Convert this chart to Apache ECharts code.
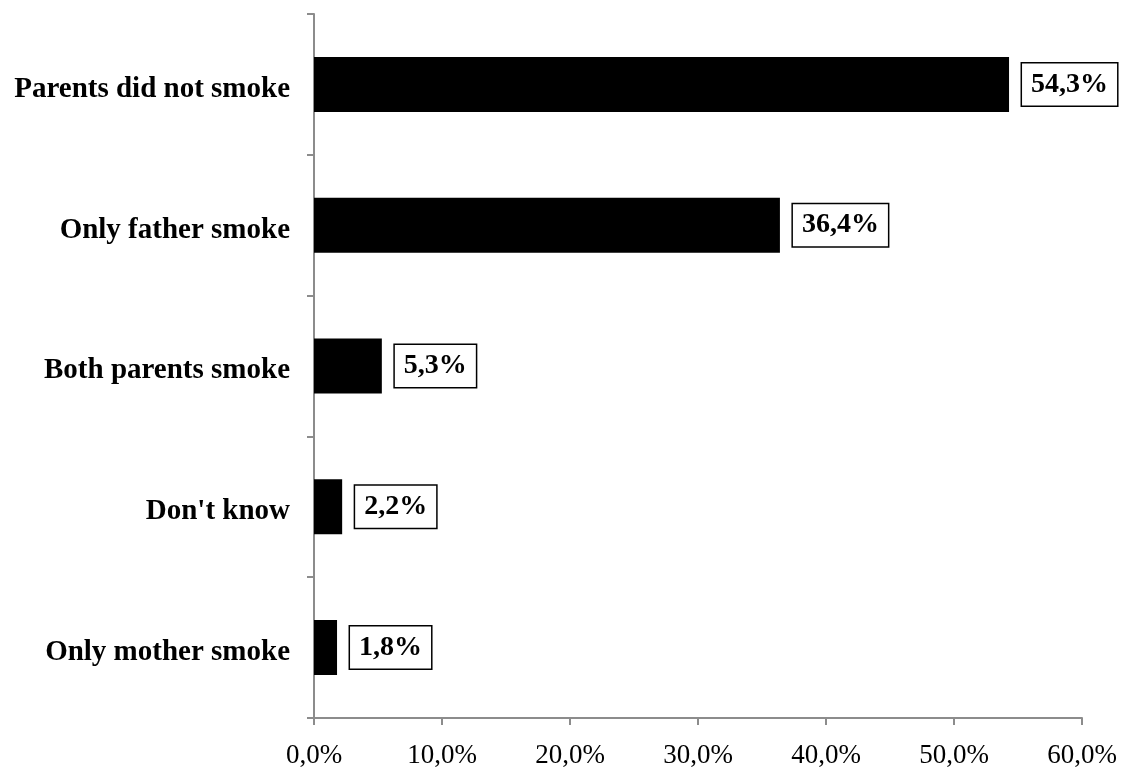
<!DOCTYPE html>
<html>
<head>
<meta charset="utf-8">
<script src="https://cdn.jsdelivr.net/npm/echarts@6/dist/echarts.min.js"></script>
<style>
  html, body { margin: 0; padding: 0; background: #fff; }
  #chartWrap { width: 1121px; height: 769px; }
</style>
</head>
<body>
<div id="chartWrap"></div>
<script>
// 数据
var categories = ['Parents did not smoke', 'Only father smoke', 'Both parents smoke', "Don't know", 'Only mother smoke'];
var values = [54.3, 36.4, 5.3, 2.2, 1.8];
var xTicks = [0, 10, 20, 30, 40, 50, 60];

var serif = '"Liberation Serif", "Times New Roman", serif';
var axisColor = '#8c8c8c';

function pct(v) { // 逗号作小数点
    return v.toFixed(1).replace('.', ',') + '%';
}

var myChart = echarts.init(document.getElementById('chartWrap'));
myChart.setOption({
    animation: false,
    backgroundColor: '#fff',
    grid: {
        left: 314,
        right: 39,
        top: 14,
        bottom: 50
    },
    xAxis: {
        type: 'value',
        min: xTicks[0],
        max: xTicks[xTicks.length - 1],
        interval: 10,
        axisLine: { show: true, lineStyle: { color: axisColor, width: 2 } },
        axisTick: { show: true, length: 7, lineStyle: { color: axisColor, width: 2 } },
        splitLine: { show: false },
        axisLabel: {
            margin: 24,
            fontFamily: serif,
            fontSize: 27,
            color: '#000',
            formatter: function (v) { return pct(v); }
        }
    },
    yAxis: {
        type: 'category',
        inverse: true,
        data: categories,
        axisLine: { show: true, lineStyle: { color: axisColor, width: 2 } },
        axisTick: { show: true, length: 7, alignWithLabel: false, lineStyle: { color: axisColor, width: 2 } },
        axisLabel: {
            margin: 24,
            fontFamily: serif,
            fontWeight: 'bold',
            fontSize: 29,
            color: '#000',
            formatter: function (v) { return '{c|' + v + '}'; },
            rich: {
                c: {
                    fontFamily: serif,
                    fontWeight: 'bold',
                    fontSize: 29,
                    color: '#000',
                    padding: [10, 0, 0, 0] // 文字略低于刻度中心
                }
            }
        }
    },
    series: [{
        type: 'bar',
        data: values,
        barWidth: 55,
        itemStyle: { color: '#000' },
        label: {
            show: true,
            position: 'right',
            distance: 13,
            fontFamily: serif,
            fontWeight: 'bold',
            fontSize: 28,
            lineHeight: 28,
            color: '#000',
            backgroundColor: '#fff',
            borderColor: '#000',
            borderWidth: 1.5,
            padding: [8, 9, 6, 9],
            formatter: function (p) { return pct(p.value); }
        }
    }]
});
</script>
</body>
</html>
